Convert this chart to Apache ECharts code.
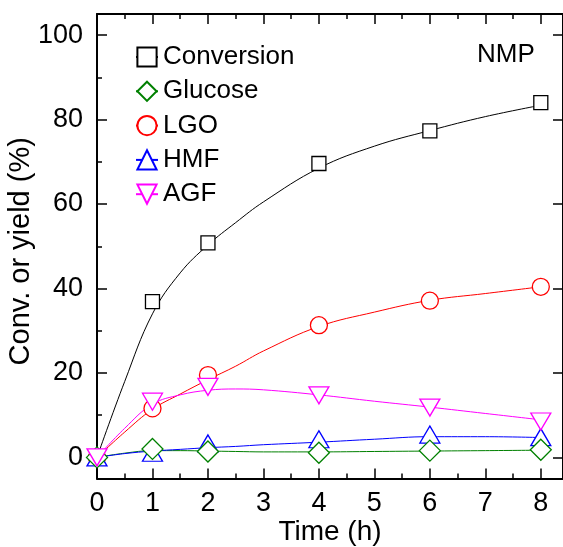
<!DOCTYPE html>
<html>
<head>
<meta charset="utf-8">
<script src="https://cdn.jsdelivr.net/npm/echarts@6/dist/echarts.min.js"></script>
<style>
  html, body { margin: 0; padding: 0; background: #fff; }
  #chart { width: 563px; height: 547px; }
</style>
</head>
<body>
<div id="chart"></div>
<script>
// measured points
var times = [0, 1, 2, 4, 6, 8];
var conversion = [0, 36.9, 50.8, 69.6, 77.3, 84.0];
var glucose = [0, 2.0, 1.4, 1.1, 1.6, 1.8];
var lgo = [0, 11.6, 19.5, 31.3, 37.1, 40.4];
var hmf = [0, 1.1, 3.3, 4.3, 5.4, 4.8];
var agf = [0, 13.2, 16.7, 14.7, 11.8, 8.5];

// fitted curves
var fitTimes = [0, 0.5, 1, 1.5, 2, 2.5, 3, 4, 5, 6, 7, 8];
var conversionFit = [0, 18.0, 34.0, 43.7, 50.3, 55.6, 60.5, 68.5, 73.7, 77.4, 80.7, 83.4];
var glucoseFit = [0, 1.0, 1.6, 1.6, 1.5, 1.4, 1.3, 1.3, 1.4, 1.5, 1.6, 1.7];
var lgoFit = [0, 6.0, 11.4, 15.0, 18.4, 21.6, 25.2, 31.0, 34.4, 37.2, 38.8, 40.4];
var hmfFit = [0, 0.9, 1.5, 1.9, 2.3, 2.6, 3.0, 3.6, 4.3, 4.9, 4.9, 4.7];
var agfFit = [0, 6.9, 12.6, 14.8, 15.9, 16.2, 16.0, 14.8, 13.3, 11.9, 10.4, 8.9];

var xMajor = [0, 1, 2, 3, 4, 5, 6, 7, 8];
var xMinor = [0.5, 1.5, 2.5, 3.5, 4.5, 5.5, 6.5, 7.5];
var yMajor = [0, 20, 40, 60, 80, 100];
var yMinor = [10, 30, 50, 70, 90];

var names = ['Conversion', 'Glucose', 'LGO', 'HMF', 'AGF'];
var colors = ['#000000', '#008000', '#ff0000', '#0000ff', '#ff00ff'];
var symbols = ['rect', 'diamond', 'circle', 'triangle', 'triangle'];
var rotates = [0, 0, 0, 0, 180];
var sizes = [14, 21, 17, [20, 17], [20, 17]];
var pointSets = [conversion, glucose, lgo, hmf, agf];
var fitSets = [conversionFit, glucoseFit, lgoFit, hmfFit, agfFit];
var drawOrder = [0, 2, 3, 1, 4];

var font = "'Liberation Sans', Arial, sans-serif";

function pairs(xs, ys) {
    return xs.map(function (x, i) { return [x, ys[i]]; });
}

function tickAxis(base, opt) {
    return Object.assign({
        type: 'value',
        min: base.min,
        max: base.max,
        splitLine: { show: false },
        axisLine: { show: false, onZero: false },
        axisLabel: { show: false },
        axisTick: { show: true, inside: true, length: 10, lineStyle: { color: '#000', width: 1.5 } }
    }, opt);
}

var X = { min: 0, max: 8.4 };
var Y = { min: -5, max: 105 };

var series = [];
for (var i = 0; i < 5; i++) {
    series.push({
        name: names[i],
        type: 'line',
        smooth: 0.4,
        symbol: symbols[i],
        symbolRotate: rotates[i],
        showSymbol: false,
        lineStyle: { color: colors[i], width: 1 },
        itemStyle: { color: '#fff', borderColor: colors[i], borderWidth: 1.3 },
        data: pairs(fitTimes, fitSets[i]),
        z: 2
    });
}
drawOrder.forEach(function (i, k) {
    series.push({
        name: names[i],
        type: 'scatter',
        symbol: symbols[i],
        symbolRotate: rotates[i],
        symbolSize: sizes[i],
        itemStyle: { color: '#fff', borderColor: colors[i], borderWidth: 1.3, opacity: 1 },
        data: pairs(times, pointSets[i]),
        z: 3 + k
    });
});

var chart = echarts.init(document.getElementById('chart'));
chart.setOption({
    animation: false,
    backgroundColor: '#fff',
    grid: { left: 97, right: 0, top: 14, bottom: 68.5, outerBoundsMode: 'none', containLabel: false },
    legend: {
        orient: 'vertical',
        left: 130,
        top: 39,
        itemWidth: 22,
        itemHeight: 24,
        itemGap: 8.3,
        selectedMode: false,
        textStyle: { fontFamily: font, fontSize: 26, color: '#000' },
        data: names
    },
    graphic: [{
        type: 'text',
        left: 477,
        top: 42,
        style: { text: 'NMP', font: '26px ' + font, fill: '#000' }
    }],
    xAxis: [
        tickAxis(X, {
            position: 'bottom',
            name: 'Time (h)',
            nameLocation: 'middle',
            nameGap: 40,
            nameMoveOverlap: false,
            nameTextStyle: { fontFamily: font, fontSize: 28, color: '#000' },
            axisLine: { show: true, onZero: false, lineStyle: { color: '#000', width: 2 } },
            axisTick: { show: true, inside: true, length: 10, customValues: xMajor, lineStyle: { color: '#000', width: 1.5 } },
            axisLabel: { show: true, customValues: xMajor, margin: 12, fontFamily: font, fontSize: 27, color: '#000' }
        }),
        tickAxis(X, {
            position: 'bottom',
            axisTick: { show: true, inside: true, length: 5, customValues: xMinor, lineStyle: { color: '#000', width: 1.5 } }
        }),
        tickAxis(X, {
            position: 'top',
            axisLine: { show: true, onZero: false, lineStyle: { color: '#000', width: 2 } },
            axisTick: { show: true, inside: true, length: 10, customValues: xMajor, lineStyle: { color: '#000', width: 1.5 } }
        }),
        tickAxis(X, {
            position: 'top',
            axisTick: { show: true, inside: true, length: 5, customValues: xMinor, lineStyle: { color: '#000', width: 1.5 } }
        })
    ],
    yAxis: [
        tickAxis(Y, {
            position: 'left',
            name: 'Conv. or yield (%)',
            nameLocation: 'middle',
            nameGap: 62,
            nameMoveOverlap: false,
            nameTextStyle: { fontFamily: font, fontSize: 29, color: '#000', padding: [0, 10, 0, 0] },
            axisLine: { show: true, onZero: false, lineStyle: { color: '#000', width: 2 } },
            axisTick: { show: true, inside: true, length: 10, customValues: yMajor, lineStyle: { color: '#000', width: 1.5 } },
            axisLabel: { show: true, customValues: yMajor, margin: 14, fontFamily: font, fontSize: 27, color: '#000' }
        }),
        tickAxis(Y, {
            position: 'left',
            axisTick: { show: true, inside: true, length: 5, customValues: yMinor, lineStyle: { color: '#000', width: 1.5 } }
        }),
        tickAxis(Y, {
            position: 'right',
            axisLine: { show: true, onZero: false, lineStyle: { color: '#000', width: 2 } },
            axisTick: { show: true, inside: true, length: 10, customValues: yMajor, lineStyle: { color: '#000', width: 1.5 } }
        })
    ],
    series: series
});
</script>
</body>
</html>
